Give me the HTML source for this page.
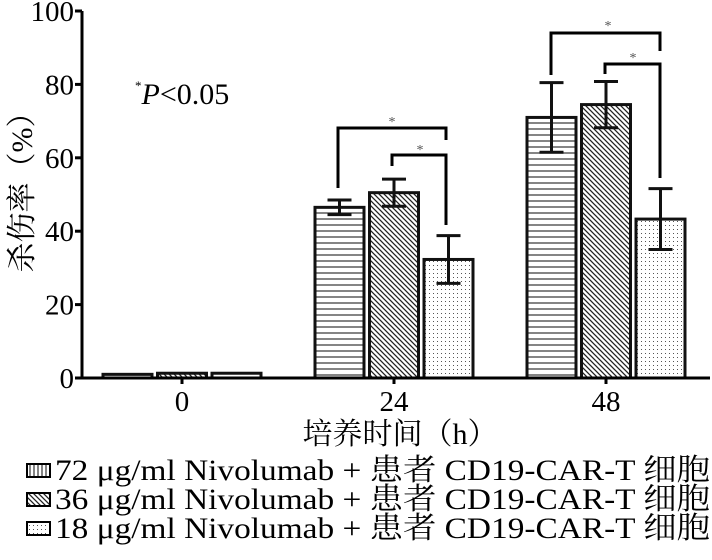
<!DOCTYPE html>
<html><head><meta charset="utf-8"><style>
html,body{margin:0;padding:0;background:#fff;}
svg{display:block;font-family:"Liberation Serif","Noto Serif CJK SC",serif;}
</style></head><body>
<svg id="chart" width="712" height="560" viewBox="0 0 712 560">
<defs>
<pattern id="pH" width="6" height="6" patternUnits="userSpaceOnUse"><rect width="6" height="6" fill="#fff"/><line x1="0" y1="3" x2="6" y2="3" stroke="#333" stroke-width="1.2"/></pattern>
<pattern id="pD" width="5" height="5" patternUnits="userSpaceOnUse"><rect width="5" height="5" fill="#fff"/><path d="M-1,-1 L6,6 M-1,4 L1,6 M4,-1 L6,1" stroke="#222" stroke-width="1.3"/></pattern>
<pattern id="pS" width="4" height="4" patternUnits="userSpaceOnUse"><rect width="4" height="4" fill="#fff"/><rect x="1" y="1" width="1" height="1" fill="#555"/></pattern>
<pattern id="pV" width="4" height="6" patternUnits="userSpaceOnUse"><rect width="4" height="6" fill="#fff"/><line x1="2" y1="0" x2="2" y2="6" stroke="#333" stroke-width="1.2"/></pattern>
</defs>
<g id="plot"></g>
</svg>
<script>
const categories = ["0","24","48"];
const seriesNames = ["72 μg/ml Nivolumab + 患者 CD19-CAR-T 细胞","36 μg/ml Nivolumab + 患者 CD19-CAR-T 细胞","18 μg/ml Nivolumab + 患者 CD19-CAR-T 细胞"];
const s72 = [1.0, 46.5, 71.0];
const s36 = [1.3, 50.5, 74.5];
const s18 = [1.3, 32.3, 43.3];
const err72 = [0, 2.0, 9.5];
const err36 = [0, 3.7, 6.3];
const err18 = [0, 6.5, 8.3];
const yTicks = [0,20,40,60,80,100];

const NS="http://www.w3.org/2000/svg";
const g=document.getElementById('plot');
const x0=82, xEnd=710, yBase=378, yTop=11;
const y=v=>yBase-(yBase-yTop)*v/100;
const groupCenter=i=>182+212*i;
const barW=49, step=54.5;
const barX=(i,s)=>groupCenter(i)+(s-1)*step-barW/2;
function mk(t,a,parent){const e=document.createElementNS(NS,t);for(const k in a)e.setAttribute(k,a[k]);(parent||g).appendChild(e);return e;}

const series=[s72,s36,s18], errs=[err72,err36,err18], fills=["url(#pH)","url(#pD)","url(#pS)"];
series.forEach((vals,s)=>{vals.forEach((v,i)=>{
  const r=mk('rect',{x:barX(i,s),y:y(v),width:barW,height:yBase-y(v),fill:fills[s],stroke:'#111','stroke-width':3});
  
  
  const e=errs[s][i];
  if(e>0){const cx=barX(i,s)+barW/2;
    const eg=mk('g',{stroke:'#111','stroke-width':3});
    
    
    mk('line',{x1:cx,x2:cx,y1:y(v+e),y2:y(v-e)},eg);
    mk('line',{x1:cx-12,x2:cx+12,y1:y(v+e),y2:y(v+e)},eg);
    mk('line',{x1:cx-12,x2:cx+12,y1:y(v-e),y2:y(v-e)},eg);}
});});

const ax=mk('path',{d:`M${x0},${yTop} V${yBase} H${xEnd}`,fill:'none',stroke:'#000','stroke-width':3});


yTicks.forEach(t=>{
  mk('line',{x1:x0-7,x2:x0,y1:y(t),y2:y(t),stroke:'#000','stroke-width':3});
  const tx=mk('text',{x:74,y:y(t)+10,'text-anchor':'end','font-size':29});
  tx.textContent=t;
  
  
});
categories.forEach((c,i)=>{
  mk('line',{x1:groupCenter(i),x2:groupCenter(i),y1:yBase,y2:yBase+6,stroke:'#000','stroke-width':3});
  const tx=mk('text',{x:groupCenter(i),y:411,'text-anchor':'middle','font-size':29});
  tx.textContent=c;
  
  
});
const xt=mk('text',{x:400,y:444,'text-anchor':'middle','font-size':30});
xt.textContent='培养时间（h）';


const yt=mk('text',{x:0,y:0,'text-anchor':'middle','font-size':30,transform:'translate(32,185) rotate(-90)'});
yt.textContent='杀伤率（%）';



const pt=mk('text',{x:135,y:104,'font-size':30});
pt.innerHTML='<tspan font-size="13" dy="-14">*</tspan><tspan dy="14" font-style="italic">P</tspan><tspan>&lt;0.05</tspan>';



const brackets=[[338,446,128,188,140,392,118],[392,446,155,166,225,420,146],[551,660,33,75,51,608,22],[605,660,64,74,178,633,54]];
brackets.forEach((b,k)=>{
  const p=mk('path',{d:`M${b[0]},${b[3]} V${b[2]} H${b[1]} V${b[4]}`,fill:'none',stroke:'#000','stroke-width':3});
  
  
  const s=mk('text',{x:b[5],y:b[6]+8,'text-anchor':'middle','font-size':14,fill:'#555'});
  s.textContent='*';
  
  
});

const lf=["url(#pV)","url(#pD)","url(#pS)"];
seriesNames.forEach((n,k)=>{
  const cy=470+29*k;
  const lg=mk('g',{});
  
  
  mk('rect',{x:27,y:cy-6,width:23,height:13,fill:lf[k],stroke:'#000','stroke-width':2},lg);
  const t=mk('text',{x:55,y:cy+10,'font-size':30,textLength:655,lengthAdjust:'spacingAndGlyphs'},lg);
  t.textContent=n;
});
</script>
</body></html>
